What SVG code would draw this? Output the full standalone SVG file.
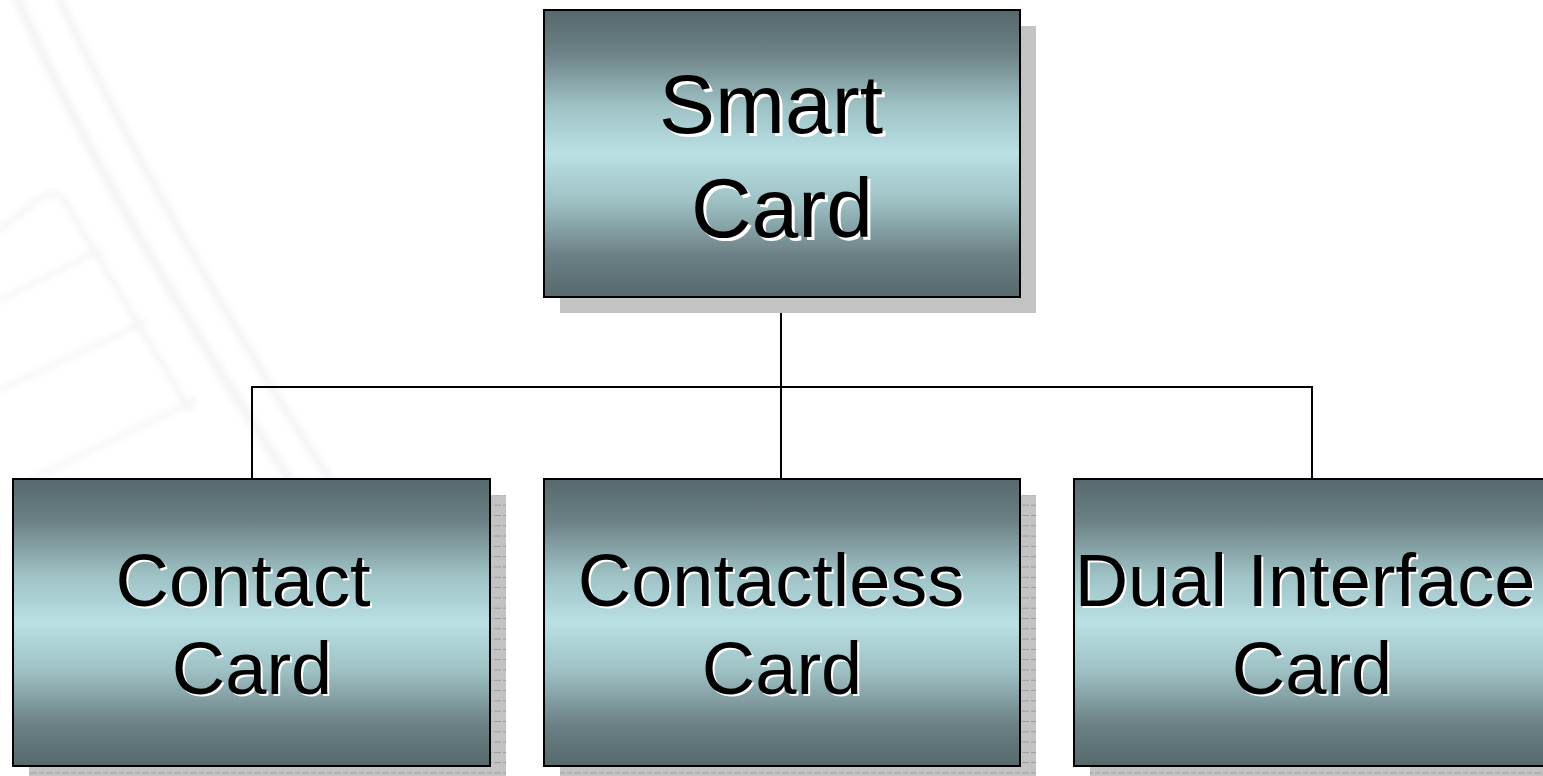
<svg xmlns="http://www.w3.org/2000/svg" width="1543" height="776" viewBox="0 0 1543 776">
  <defs>
    <linearGradient id="boxFill" x1="0" y1="0" x2="0" y2="1">
      <stop offset="0" stop-color="#56696d"/>
      <stop offset="0.15" stop-color="#6d8286"/>
      <stop offset="0.33" stop-color="#9dc0c3"/>
      <stop offset="0.5" stop-color="#b9e0e3"/>
      <stop offset="0.67" stop-color="#9dc0c3"/>
      <stop offset="0.85" stop-color="#6d8286"/>
      <stop offset="1" stop-color="#56696d"/>
    </linearGradient>
    <pattern id="shadowLines" width="16" height="10.3" patternUnits="userSpaceOnUse">
      <rect width="16" height="10.3" fill="#c3c3c3"/>
      <line x1="0" y1="0.5" x2="16" y2="0.5" stroke="#9a9a9a" stroke-width="1" stroke-dasharray="5 2"/>
    </pattern>
    <filter id="soft" x="-10%" y="-10%" width="120%" height="120%">
      <feGaussianBlur stdDeviation="3"/>
    </filter>
  </defs>
  <style>
    .box { fill: url(#boxFill); stroke: #000; stroke-width: 2; }
    .shadow { fill: #c3c3c3; }
    .shadow-lined { fill: url(#shadowLines); }
    .wire { fill: none; stroke: #000; stroke-width: 2; }
    .lbl { font-family: "Liberation Sans", Arial, sans-serif; text-anchor: middle; fill: #000; }
    .lbl-bg { font-family: "Liberation Sans", Arial, sans-serif; text-anchor: middle; fill: #fff; }
    .big { font-size: 84px; }
    .mid { font-size: 74px; }
    .wm { fill: none; stroke: #f4f4f4; stroke-linecap: round; }
  </style>

  <rect width="1543" height="776" fill="#fff"/>

  <!-- faint background watermark -->
  <g id="watermark" filter="url(#soft)">
    <path class="wm" stroke-width="10" d="M18 0 C70 120 170 300 290 480"/>
    <path class="wm" stroke-width="8" d="M60 0 C120 130 220 310 330 480"/>
    <path class="wm" stroke-width="6" d="M0 230 L40 198 Q55 188 64 200 L190 410"/>
    <path class="wm" stroke-width="5" d="M0 300 L100 250"/>
    <path class="wm" stroke-width="5" d="M0 390 L145 322"/>
    <path class="wm" stroke-width="5" d="M30 480 L195 400"/>
  </g>

  <!-- connectors -->
  <g id="connectors">
    <path class="wire" d="M781 298 V387"/>
    <path class="wire" d="M252 479 V387 H1312 V479"/>
    <path class="wire" d="M781 387 V479"/>
  </g>

  <g id="node-smart-card">
    <rect class="shadow" x="560" y="26" width="476" height="287"/>
    <rect class="box" x="544" y="10" width="476" height="287"/>
    <text class="lbl-bg big" x="774" y="136">Smart</text>
    <text class="lbl big" x="771" y="133">Smart</text>
    <text class="lbl-bg big" x="785" y="240">Card</text>
    <text class="lbl big" x="782" y="237">Card</text>
  </g>

  <g id="node-contact-card">
    <rect class="shadow-lined" x="29" y="495" width="477" height="281"/>
    <rect class="box" x="13" y="479" width="477" height="287"/>
    <text class="lbl-bg mid" x="245" y="608">Contact</text>
    <text class="lbl mid" x="243" y="606">Contact</text>
    <text class="lbl-bg mid" x="254" y="696">Card</text>
    <text class="lbl mid" x="252" y="694">Card</text>
  </g>

  <g id="node-contactless-card">
    <rect class="shadow-lined" x="560" y="495" width="476" height="281"/>
    <rect class="box" x="544" y="479" width="476" height="287"/>
    <text class="lbl-bg mid" x="773" y="608">Contactless</text>
    <text class="lbl mid" x="771" y="606">Contactless</text>
    <text class="lbl-bg mid" x="784" y="696">Card</text>
    <text class="lbl mid" x="782" y="694">Card</text>
  </g>

  <g id="node-dual-interface-card">
    <rect class="shadow-lined" x="1090" y="495" width="476" height="281"/>
    <rect class="box" x="1074" y="479" width="476" height="287"/>
    <text class="lbl-bg mid" x="1307" y="608">Dual Interface</text>
    <text class="lbl mid" x="1305" y="606">Dual Interface</text>
    <text class="lbl-bg mid" x="1314" y="696">Card</text>
    <text class="lbl mid" x="1312" y="694">Card</text>
  </g>
</svg>
